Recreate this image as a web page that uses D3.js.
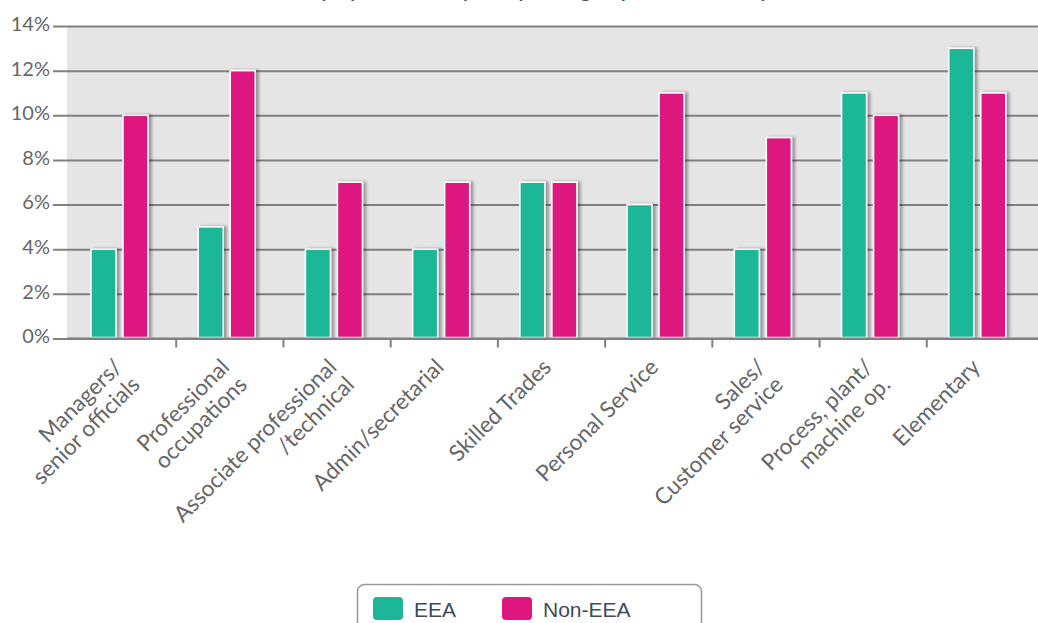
<!DOCTYPE html>
<html>
<head>
<meta charset="utf-8">
<script src="https://cdn.jsdelivr.net/npm/d3@7"></script>
<style>
  body { margin: 0; background: #fff; }
  .axis text { font-family: Lato, sans-serif; fill: #666; }
  .legend text { font-family: "Liberation Sans", Arial, sans-serif; fill: #3d4b5a; }
</style>
</head>
<body>
<svg id="chart"></svg>
<script>
// Data
const categories = [
  'Managers/\nsenior officials',
  'Professional\noccupations',
  'Associate professional\n/technical',
  'Admin/secretarial',
  'Skilled Trades',
  'Personal Service',
  'Sales/\nCustomer service',
  'Process, plant/\nmachine op.',
  'Elementary'
];
const seriesNames = ['EEA', 'Non-EEA'];
const eeaValues = [4, 5, 4, 4, 7, 6, 4, 11, 13];
const nonEeaValues = [10, 12, 7, 7, 7, 11, 9, 10, 11];
const yTicks = [0, 2, 4, 6, 8, 10, 12, 14];
const colors = ['#1bb797', '#de1680'];
const chartTitle = 'Unemployment rate by occupation group and nationality';

class GroupedBarChart {

  constructor(_config) {
    this.config = {
      parentElement: _config.parentElement,
      containerWidth: _config.containerWidth || 1038,
      containerHeight: _config.containerHeight || 623,
      margin: _config.margin || {top: 26, right: 0, bottom: 284.5, left: 67}
    }
    this.initVis();
  }

  initVis() {
    let vis = this;

    vis.width = vis.config.containerWidth - vis.config.margin.left - vis.config.margin.right;
    vis.height = vis.config.containerHeight - vis.config.margin.top - vis.config.margin.bottom;

    vis.svg = d3.select(vis.config.parentElement)
        .attr('width', vis.config.containerWidth)
        .attr('height', vis.config.containerHeight);

    // soft shadow to the right of each bar
    const filter = vis.svg.append('defs').append('filter')
        .attr('id', 'barShadow')
        .attr('x', '-20%').attr('y', '-5%')
        .attr('width', '160%').attr('height', '110%');
    filter.append('feDropShadow')
        .attr('dx', 3).attr('dy', 0)
        .attr('stdDeviation', 1.5)
        .attr('flood-color', '#000')
        .attr('flood-opacity', 0.35);

    vis.chart = vis.svg.append('g')
        .attr('transform', `translate(${vis.config.margin.left},${vis.config.margin.top})`);

    vis.xScale = d3.scaleBand()
        .domain(categories)
        .range([2, vis.width - 4]);

    vis.xSub = d3.scaleBand()
        .domain(seriesNames)
        .range([22, 22 + 57])
        .paddingInner(0.21875);

    vis.yScale = d3.scaleLinear()
        .domain([0, 14])
        .range([vis.height, 0]);

    vis.yAxis = d3.axisLeft(vis.yScale)
        .tickValues(yTicks)
        .tickFormat(d => d + '%')
        .tickSize(-vis.width)
        .tickSizeOuter(0)
        .tickPadding(17);

    // plot background
    vis.chart.append('rect')
        .attr('width', vis.width)
        .attr('height', vis.height)
        .attr('fill', '#e5e5e5');

    // title: only its descenders peek in at the top edge, as in the reference
    vis.svg.append('text')
        .attr('x', 519)
        .attr('y', -3.5)
        .attr('text-anchor', 'middle')
        .style('font-family', 'Lato, sans-serif')
        .style('font-weight', 'bold')
        .style('font-size', '20px')
        .style('fill', '#555')
        .text(chartTitle);

    vis.renderVis();
  }

  renderVis() {
    let vis = this;

    const yAxisG = vis.chart.append('g')
        .attr('class', 'axis y-axis')
        .call(vis.yAxis);
    yAxisG.select('.domain').remove();
    yAxisG.selectAll('.tick line')
        .attr('x1', -14)
        .attr('stroke', '#808080')
        .attr('stroke-width', 2);
    yAxisG.selectAll('.tick text')
        .attr('dy', '0.22em')
        .style('font-size', '20px');

    const rows = categories.map((c, i) => ({category: c, values: [eeaValues[i], nonEeaValues[i]]}));

    const groups = vis.chart.selectAll('.group')
        .data(rows)
        .join('g')
        .attr('class', 'group')
        .attr('transform', d => `translate(${vis.xScale(d.category)},0)`);

    groups.selectAll('rect')
        .data(d => d.values.map((v, j) => ({series: seriesNames[j], value: v, color: colors[j]})))
        .join('rect')
        .attr('x', d => vis.xSub(d.series))
        .attr('y', d => vis.yScale(d.value))
        .attr('width', vis.xSub.bandwidth())
        .attr('height', d => vis.height - vis.yScale(d.value) - 1)
        .attr('fill', d => d.color)
        .attr('stroke', '#fff')
        .attr('stroke-width', 1.5)
        .attr('filter', 'url(#barShadow)');

    // x axis line with ticks between categories
    const xAxisG = vis.chart.append('g')
        .attr('class', 'axis x-axis')
        .attr('transform', `translate(0,${vis.height})`);
    xAxisG.append('line')
        .attr('x1', 0).attr('x2', vis.width)
        .attr('stroke', '#808080')
        .attr('stroke-width', 2);
    xAxisG.selectAll('.sep')
        .data(categories.slice(1))
        .join('line')
        .attr('class', 'sep')
        .attr('x1', d => vis.xScale(d)).attr('x2', d => vis.xScale(d))
        .attr('y1', 0).attr('y2', 9)
        .attr('stroke', '#808080')
        .attr('stroke-width', 2);

    const labels = xAxisG.selectAll('.cat-label')
        .data(categories)
        .join('text')
        .attr('class', 'cat-label')
        .attr('text-anchor', 'end')
        .style('font-size', '22.5px')
        .attr('transform', d => `translate(${vis.xScale(d) + vis.xScale.bandwidth() / 2 + 1},30) rotate(-45)`);
    labels.selectAll('tspan')
        .data(d => d.split('\n'))
        .join('tspan')
        .attr('x', 0)
        .attr('dy', (d, i) => i === 0 ? 0 : '1.1em')
        .text(d => d);

    // legend
    const legend = vis.svg.append('g')
        .attr('class', 'legend');
    legend.append('rect')
        .attr('x', 357.5).attr('y', 584.5)
        .attr('width', 344).attr('height', 60)
        .attr('rx', 7)
        .attr('fill', '#fff')
        .attr('stroke', '#999')
        .attr('stroke-width', 1.5);
    const items = legend.selectAll('.item')
        .data(seriesNames)
        .join('g')
        .attr('class', 'item')
        .attr('transform', (d, i) => `translate(${373 + i * 129},597)`);
    items.append('rect')
        .attr('width', 30).attr('height', 23)
        .attr('rx', 4)
        .attr('fill', (d, i) => colors[i]);
    items.append('text')
        .attr('x', 41).attr('y', 20)
        .style('font-size', '21px')
        .text(d => d);
  }
}

const chart = new GroupedBarChart({parentElement: '#chart'});
</script>
</body>
</html>
